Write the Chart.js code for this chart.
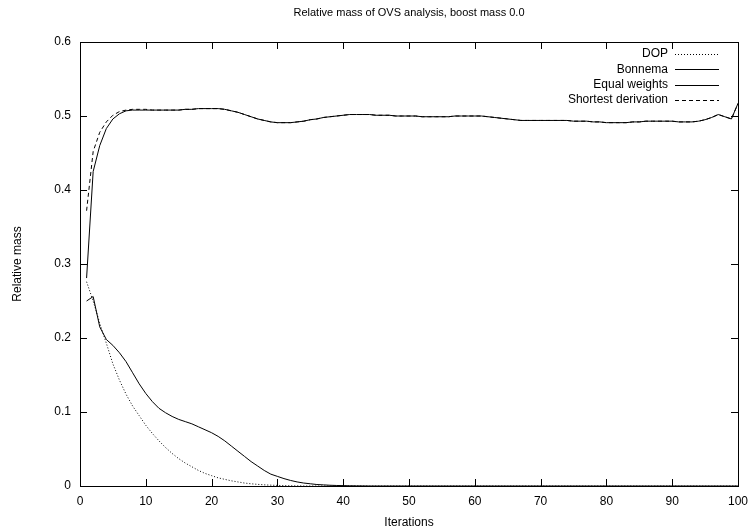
<!DOCTYPE html>
<html>
<head>
<meta charset="utf-8">
<script src="https://cdn.jsdelivr.net/npm/chart.js@4/dist/chart.umd.min.js"></script>
<style>
  body { margin: 0; background: #fff; }
  canvas { display: block; }
</style>
</head>
<body>
<canvas id="massChart" width="750" height="528"></canvas>
<script>
// iterations 1..100
const iterations = [
  1, 2, 3, 4, 5, 6, 7, 8, 9, 10, 11, 12, 13, 14, 15, 16, 17, 18, 19, 20,
  21, 22, 23, 24, 25, 26, 27, 28, 29, 30, 31, 32, 33, 34, 35, 36, 37, 38, 39, 40,
  41, 42, 43, 44, 45, 46, 47, 48, 49, 50, 51, 52, 53, 54, 55, 56, 57, 58, 59, 60,
  61, 62, 63, 64, 65, 66, 67, 68, 69, 70, 71, 72, 73, 74, 75, 76, 77, 78, 79, 80,
  81, 82, 83, 84, 85, 86, 87, 88, 89, 90, 91, 92, 93, 94, 95, 96, 97, 98, 99, 100
];

const dop = [
  0.276, 0.250, 0.220, 0.193, 0.165, 0.143, 0.124, 0.108, 0.095, 0.082,
  0.071, 0.061, 0.052, 0.044, 0.037, 0.031, 0.026, 0.021, 0.017, 0.014,
  0.011, 0.009, 0.007, 0.0055, 0.004, 0.003, 0.0022, 0.0016, 0.0011, 0.0008,
  0.0005, 0.0003, 0.0002, 0.0001, 0, 0, 0, 0, 0, 0,
  0, 0, 0, 0, 0, 0, 0, 0, 0, 0,
  0, 0, 0, 0, 0, 0, 0, 0, 0, 0,
  0, 0, 0, 0, 0, 0, 0, 0, 0, 0,
  0, 0, 0, 0, 0, 0, 0, 0, 0, 0,
  0, 0, 0, 0, 0, 0, 0, 0, 0, 0,
  0, 0, 0, 0, 0, 0, 0, 0, 0, 0
];

const bonnema = [
  0.250, 0.256, 0.215, 0.198, 0.190, 0.180, 0.168, 0.153, 0.138, 0.125,
  0.114, 0.105, 0.099, 0.094, 0.090, 0.087, 0.084, 0.080, 0.076, 0.072,
  0.067, 0.061, 0.054, 0.047, 0.040, 0.033, 0.027, 0.021, 0.016, 0.013,
  0.010, 0.0075, 0.0055, 0.004, 0.003, 0.002, 0.0015, 0.001, 0.0007, 0.0005,
  0.0003, 0.0002, 0.0001, 0, 0, 0, 0, 0, 0, 0,
  0, 0, 0, 0, 0, 0, 0, 0, 0, 0,
  0, 0, 0, 0, 0, 0, 0, 0, 0, 0,
  0, 0, 0, 0, 0, 0, 0, 0, 0, 0,
  0, 0, 0, 0, 0, 0, 0, 0, 0, 0,
  0, 0, 0, 0, 0, 0, 0, 0, 0, 0
];

const equalWeights = [
  0.281, 0.425, 0.460, 0.483, 0.496, 0.503, 0.507, 0.508, 0.508, 0.508,
  0.508, 0.508, 0.508, 0.508, 0.508, 0.509, 0.509, 0.510, 0.510, 0.510,
  0.510, 0.509, 0.507, 0.505, 0.502, 0.499, 0.496, 0.494, 0.492, 0.491,
  0.491, 0.491, 0.492, 0.493, 0.495, 0.496, 0.498, 0.499, 0.500, 0.501,
  0.502, 0.502, 0.502, 0.502, 0.501, 0.501, 0.501, 0.500, 0.500, 0.500,
  0.500, 0.499, 0.499, 0.499, 0.499, 0.499, 0.500, 0.500, 0.500, 0.500,
  0.500, 0.499, 0.498, 0.497, 0.496, 0.495, 0.494, 0.494, 0.494, 0.494,
  0.494, 0.494, 0.494, 0.494, 0.493, 0.493, 0.493, 0.492, 0.492, 0.491,
  0.491, 0.491, 0.491, 0.492, 0.492, 0.493, 0.493, 0.493, 0.493, 0.493,
  0.492, 0.492, 0.492, 0.493, 0.495, 0.498, 0.502, 0.499, 0.496, 0.517
];

const shortestDerivation = [
  0.372, 0.452, 0.478, 0.492, 0.501, 0.506, 0.508, 0.509, 0.509, 0.509,
  0.508, 0.508, 0.508, 0.508, 0.508, 0.509, 0.509, 0.510, 0.510, 0.510,
  0.510, 0.509, 0.507, 0.505, 0.502, 0.499, 0.496, 0.494, 0.492, 0.491,
  0.491, 0.491, 0.492, 0.493, 0.495, 0.496, 0.498, 0.499, 0.500, 0.501,
  0.502, 0.502, 0.502, 0.502, 0.501, 0.501, 0.501, 0.500, 0.500, 0.500,
  0.500, 0.499, 0.499, 0.499, 0.499, 0.499, 0.500, 0.500, 0.500, 0.500,
  0.500, 0.499, 0.498, 0.497, 0.496, 0.495, 0.494, 0.494, 0.494, 0.494,
  0.494, 0.494, 0.494, 0.494, 0.493, 0.493, 0.493, 0.492, 0.492, 0.491,
  0.491, 0.491, 0.491, 0.492, 0.492, 0.493, 0.493, 0.493, 0.493, 0.493,
  0.492, 0.492, 0.492, 0.493, 0.495, 0.498, 0.502, 0.499, 0.496, 0.517
];

const yTickLabels = ['0', '0.1', '0.2', '0.3', '0.4', '0.5', '0.6'];
const xTickLabels = ['0', '10', '20', '30', '40', '50', '60', '70', '80', '90', '100'];

const FONT = '"Liberation Sans", Arial, Helvetica, sans-serif';

const toPoints = ys => iterations.map((x, i) => ({ x: x, y: ys[i] }));

// gnuplot-like frame, inward ticks on all four sides, title and legend
const gnuplotLook = {
  id: 'gnuplotLook',
  afterDatasetsDraw(chart) {
    const ctx = chart.ctx;
    const a = chart.chartArea;
    const xs = chart.scales.x, ys = chart.scales.y;
    ctx.save();
    ctx.strokeStyle = '#000';
    ctx.lineWidth = 1;
    ctx.setLineDash([]);
    ctx.strokeRect(Math.round(a.left) + 0.5, Math.round(a.top) + 0.5,
      Math.round(a.right - a.left), Math.round(a.bottom - a.top));
    const len = 7;
    ctx.beginPath();
    xs.ticks.forEach(t => {
      const px = Math.round(xs.getPixelForValue(t.value)) + 0.5;
      ctx.moveTo(px, a.bottom); ctx.lineTo(px, a.bottom - len);
      ctx.moveTo(px, a.top); ctx.lineTo(px, a.top + len);
    });
    ys.ticks.forEach(t => {
      const py = Math.round(ys.getPixelForValue(t.value)) + 0.5;
      ctx.moveTo(a.left, py); ctx.lineTo(a.left + len, py);
      ctx.moveTo(a.right, py); ctx.lineTo(a.right - len, py);
    });
    ctx.stroke();

    // title
    ctx.fillStyle = '#000';
    ctx.font = '11px ' + FONT;
    ctx.textAlign = 'center';
    ctx.textBaseline = 'middle';
    ctx.fillText('Relative mass of OVS analysis, boost mass 0.0', (a.left + a.right) / 2, 13);

    // legend
    ctx.font = '12px ' + FONT;
    ctx.textAlign = 'right';
    chart.data.datasets.forEach((ds, i) => {
      const y = 54 + i * 15.3;
      ctx.fillText(ds.label, 668, y);
      ctx.beginPath();
      ctx.setLineDash(ds.borderDash || []);
      ctx.moveTo(675, Math.round(y) + 0.5);
      ctx.lineTo(719, Math.round(y) + 0.5);
      ctx.stroke();
    });
    ctx.restore();
  }
};

const ctx = document.getElementById('massChart').getContext('2d');
new Chart(ctx, {
  type: 'line',
  data: {
    datasets: [
      { label: 'DOP', data: toPoints(dop), borderColor: '#000', borderWidth: 1, borderDash: [1, 2] },
      { label: 'Bonnema', data: toPoints(bonnema), borderColor: '#000', borderWidth: 1 },
      { label: 'Equal weights', data: toPoints(equalWeights), borderColor: '#000', borderWidth: 1 },
      { label: 'Shortest derivation', data: toPoints(shortestDerivation), borderColor: '#000', borderWidth: 1, borderDash: [4, 3] }
    ]
  },
  options: {
    responsive: false,
    animation: false,
    elements: { point: { radius: 0 }, line: { tension: 0 } },
    layout: { padding: { top: 42, right: 0, left: 0, bottom: 0 } },
    plugins: { legend: { display: false }, title: { display: false }, tooltip: { enabled: false } },
    scales: {
      x: {
        type: 'linear', min: 0, max: 100,
        grid: { display: false, drawTicks: false },
        border: { display: false },
        ticks: {
          stepSize: 10, color: '#000', padding: 8,
          font: { family: FONT, size: 12 },
          callback: (v) => xTickLabels[Math.round(v / 10)]
        },
        title: { display: true, text: 'Iterations', color: '#000', font: { family: FONT, size: 12 }, padding: { top: 0, bottom: -2 } },
        afterFit: (s) => { s.height = 42; s.paddingLeft = 0; s.paddingRight = 12; }
      },
      y: {
        min: 0, max: 0.6,
        grid: { display: false, drawTicks: false },
        border: { display: false },
        ticks: {
          stepSize: 0.1, color: '#000', padding: 9,
          font: { family: FONT, size: 12 },
          callback: (v) => yTickLabels[Math.round(v * 10)]
        },
        title: { display: true, text: 'Relative mass', color: '#000', font: { family: FONT, size: 12 }, padding: { top: 10, bottom: 0 } },
        afterFit: (s) => { s.width = 80; s.paddingTop = 0; s.paddingBottom = 0; }
      }
    }
  },
  plugins: [gnuplotLook]
});
</script>
</body>
</html>
